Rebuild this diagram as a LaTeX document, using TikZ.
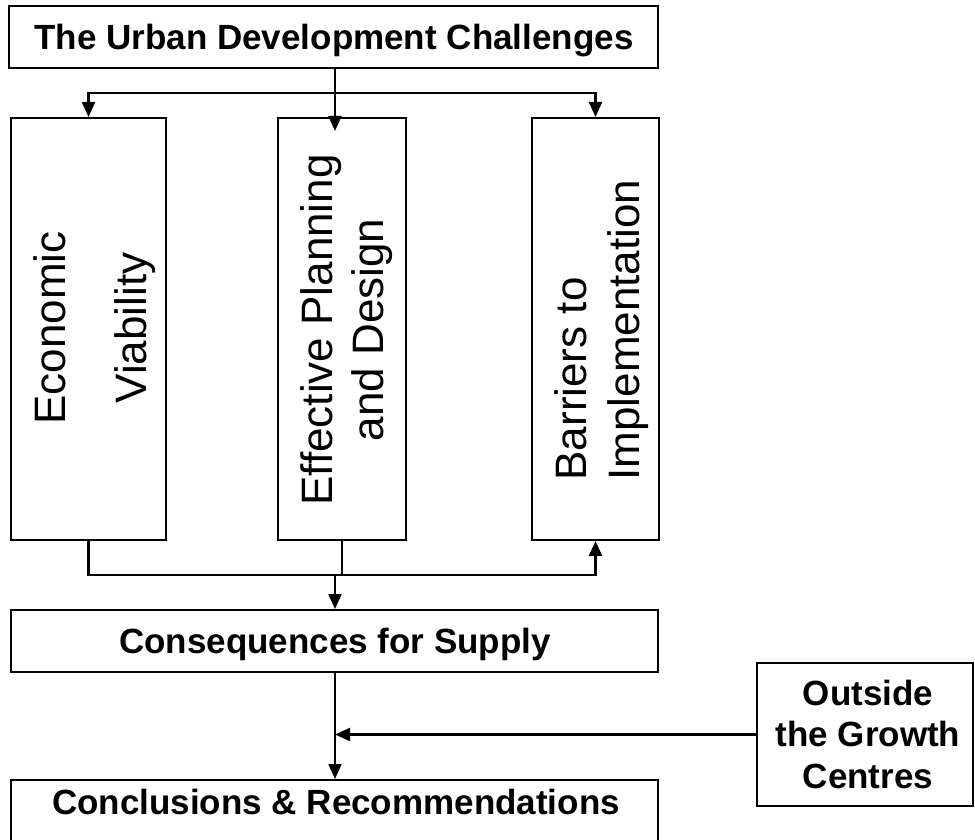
\documentclass[tikz,border=0pt]{standalone}
\usepackage{fontspec}
\setmainfont{Liberation Sans}
\usetikzlibrary{arrows.meta,calc}
\begin{document}
\begin{tikzpicture}[x=1pt,y=-1pt,
  box/.style={draw=black,line width=2pt,inner sep=0pt,fill=white},
  lbl/.style={font=\fontsize{35}{41.5}\selectfont\bfseries,inner sep=0pt,align=center},
  vlbl/.style={rotate=90,inner sep=0pt},
  link/.style={line width=2.2pt},
  arr/.style={link,-{Triangle[length=15pt,width=13pt]}}]
\useasboundingbox (0,0) rectangle (975,840);
\clip (0,0) rectangle (975,840);

% boxes
\node[box,minimum width=649pt,minimum height=62pt] (top) at (333.5,37) {};
\node[box,minimum width=155pt,minimum height=422pt] (econ) at (88.5,329) {};
\node[box,minimum width=128pt,minimum height=422pt] (plan) at (342,329) {};
\node[box,minimum width=127pt,minimum height=422pt] (barr) at (595.5,329) {};
\node[box,minimum width=647pt,minimum height=62pt] (cons) at (334.5,641) {};
\node[box,minimum width=647pt,minimum height=80pt] (concl) at (334.5,820) {};
\node[box,minimum width=216pt,minimum height=143pt] (outside) at (865,734.5) {};

% labels
\node[lbl,anchor=base] (topT) at (334,49.5) {The Urban Development Challenges};
\node[lbl,anchor=base] (consT) at (335,653.5) {Consequences for Supply};
\node[lbl,anchor=base] (conclT) at (336,814) {Conclusions \& Recommendations};
\node[lbl] (outsideT) at (868,734) {Outside\\the Growth\\Centres};
\node[vlbl,align=center,font=\fontsize{44}{81}\selectfont] (econT) at (95,328) {Economic\\Viability};
\node[vlbl,align=center,font=\fontsize{44}{51}\selectfont] (planT) at (347,330) {Effective Planning\\and Design};
\node[vlbl,align=left,font=\fontsize{44}{53}\selectfont] (barrT) at (602,330) {Barriers to\\Implementation};

% junction points
\coordinate (split) at (335,93);
\coordinate (merge) at (335,575);

% connectors from the top box
\draw[link] (top.south -| split) -- (split);
\draw[arr] (split) -| (econ.north);
\draw[arr] (split) -| (barr.north);
\draw[arr] (split) -- ($(plan.north -| split)+(0,14)$);

% connectors into the consequences box
\draw[arr] (econ.south) |- (barr.south |- merge) -- (barr.south);
\draw[link] (plan.south) -- (plan.south |- merge);
\draw[arr] (merge) -- (cons.north -| merge);

% final stage
\draw[arr] (cons.south -| merge) -- (concl.north -| merge);
\draw[arr] (outside.west) -- (outside.west -| merge);
\end{tikzpicture}
\end{document}
